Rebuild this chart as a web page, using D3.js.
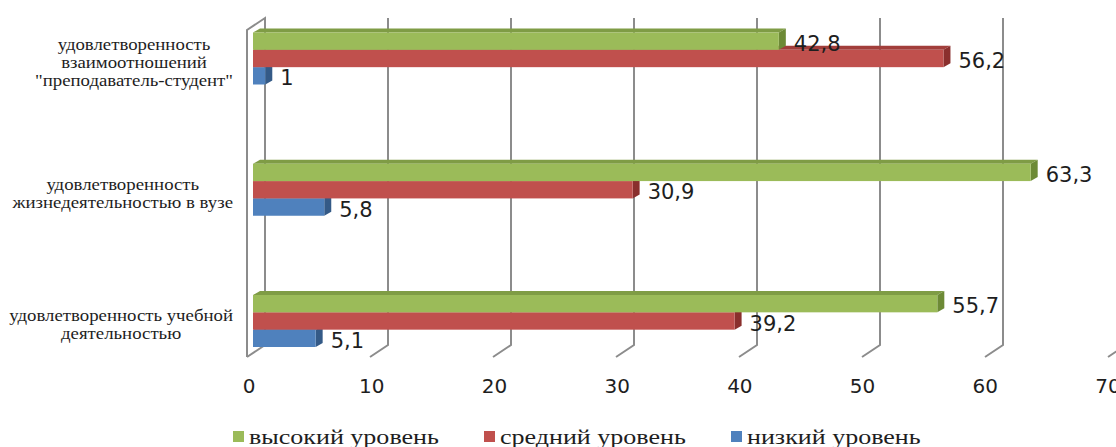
<!DOCTYPE html>
<html>
<head>
<meta charset="utf-8">
<script src="https://cdn.jsdelivr.net/npm/d3@7"></script>
<style>
  html, body { margin: 0; padding: 0; background: #fff; }
  svg { display: block; }
</style>
</head>
<body>
<svg id="chart" width="1116" height="447"></svg>
<script>
// Satisfaction levels by aspect of student life (%)
const categories = [
  ["удовлетворенность", "взаимоотношений", "\"преподаватель-студент\""],
  ["удовлетворенность", "жизнедеятельностью в вузе"],
  ["удовлетворенность учебной", "деятельностью"]
];
const seriesNames = ["высокий уровень", "средний уровень", "низкий уровень"];
const highValues = [42.8, 63.3, 55.7];
const mediumValues = [56.2, 30.9, 39.2];
const lowValues = [1, 5.8, 5.1];
const tickValues = [0, 10, 20, 30, 40, 50, 60, 70];

const seriesValues = [highValues, mediumValues, lowValues];
const colors = [
  { front: "#9bbb59", top: "#7f9c45", side: "#6d8a36" },
  { front: "#c0504d", top: "#a23e3b", side: "#8a2f2d" },
  { front: "#4f81bd", top: "#3e6aa0", side: "#345a87" }
];

const svg = d3.select("#chart");
const catKeys = categories.map((c, i) => "c" + i);

// depth offset of the 3-D projection
const depthX = 18, depthY = 12;
const barDX = 7, barDY = 4;

// back wall scale, bar scale (mid depth) and front label scale
const xBack = d3.scaleLinear().domain([0, 70]).range([265, 1126]);
const xBar = d3.scaleLinear().domain([0, 70]).range([253, 1113]);
const xFront = d3.scaleLinear().domain([0, 70]).range([249, 1108]);

const wallTop = 18, wallBottom = 345;

const yCat = d3.scalePoint().domain(catKeys).range([58.5, 321]);
const ySer = d3.scaleBand().domain(seriesNames).range([-26, 26]);

const grid = svg.append("g").attr("fill", "none").attr("stroke", "#8c8c8c").attr("stroke-width", 2);

// left side wall
grid.append("path")
  .attr("d", `M${xBack(0) - depthX},${wallBottom + depthY}V${wallTop + depthY}L${xBack(0)},${wallTop}V${wallBottom}`);

// back-wall gridlines with their floor edges
tickValues.forEach(t => {
  const xb = xBack(t);
  grid.append("path")
    .attr("d", `M${xb},${wallTop}V${wallBottom}L${xb - depthX},${wallBottom + depthY}`);
});

// bars, drawn bottom-up within each group so upper bars overlap lower tops
const bars = svg.append("g");
catKeys.forEach((ck, ci) => {
  for (let si = seriesNames.length - 1; si >= 0; si--) {
    const v = seriesValues[si][ci];
    const y = yCat(ck) + ySer(seriesNames[si]);
    const h = ySer.bandwidth();
    const x0 = xBar(0), x1 = xBar(v);
    const c = colors[si];
    bars.append("path").attr("fill", c.top)
      .attr("d", `M${x0},${y}L${x0 + barDX},${y - barDY}H${x1 + barDX}L${x1},${y}Z`);
    bars.append("path").attr("fill", c.side)
      .attr("d", `M${x1},${y}L${x1 + barDX},${y - barDY}V${y + h - barDY}L${x1},${y + h}Z`);
    bars.append("rect").attr("fill", c.front)
      .attr("x", x0).attr("y", y).attr("width", x1 - x0).attr("height", h);
  }
});

// value labels
const fmt = v => String(v).replace(".", ",");
const labels = svg.append("g")
  .attr("font-family", "'DejaVu Sans', sans-serif")
  .attr("font-size", 21).attr("fill", "#1e1e1e");
catKeys.forEach((ck, ci) => {
  seriesNames.forEach((s, si) => {
    const v = seriesValues[si][ci];
    labels.append("text")
      .attr("x", xBar(v) + barDX + 8)
      .attr("y", yCat(ck) + ySer(s) + ySer.bandwidth() / 2 + 2)
      .attr("dy", "0.36em")
      .text(fmt(v));
  });
});

// value axis labels
const axis = svg.append("g")
  .attr("font-family", "'DejaVu Sans', sans-serif")
  .attr("font-size", 20).attr("fill", "#1e1e1e").attr("text-anchor", "middle");
tickValues.forEach(t => {
  axis.append("text").attr("x", xFront(t)).attr("y", 393).text(t);
});

// category labels: block right-aligned, lines centred within the block
const stretch = 1.19;
const catG = svg.append("g")
  .attr("font-family", "'Liberation Serif', 'Times New Roman', serif")
  .attr("font-size", 15.8).attr("fill", "#1e1e1e");
const rightEdge = 233, lineH = 18;
categories.forEach((lines, ci) => {
  const c = yCat(catKeys[ci]);
  const texts = lines.map((ln, li) => catG.append("text")
    .attr("text-anchor", "middle")
    .text(ln));
  const widths = texts.map(t => t.node().getComputedTextLength() * stretch);
  const maxW = d3.max(widths);
  const cx = rightEdge - maxW / 2;
  texts.forEach((t, li) => {
    const by = c + 9 + (li - (lines.length - 1) / 2) * lineH;
    t.attr("transform", `translate(${cx},${by}) scale(${stretch},1)`);
  });
});

// legend
const legendX = [233, 484, 731];
const legend = svg.append("g")
  .attr("font-family", "'Liberation Serif', 'Times New Roman', serif")
  .attr("font-size", 21).attr("fill", "#1e1e1e");
seriesNames.forEach((s, si) => {
  const g = legend.append("g").attr("transform", `translate(${legendX[si]},0)`);
  g.append("rect").attr("x", 0).attr("y", 431).attr("width", 11).attr("height", 11)
    .attr("fill", colors[si].front);
  g.append("text").attr("transform", `translate(16,444) scale(1.24,1)`).text(s);
});
</script>
</body>
</html>
